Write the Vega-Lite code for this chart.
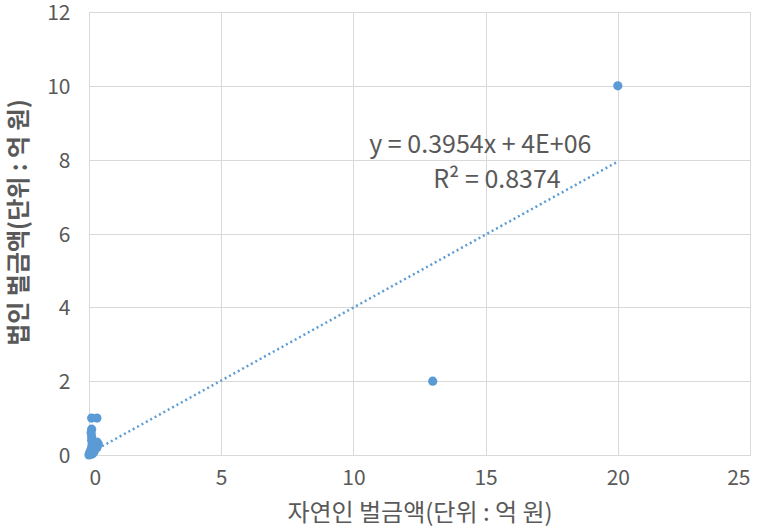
{
  "$schema": "https://vega.github.io/schema/vega-lite/v6.json",
  "autosize": "none",
  "width": 661,
  "height": 443,
  "padding": {"left": 89, "top": 12, "right": 12, "bottom": 74},
  "background": "white",
  "config": {
    "view": {"stroke": "#D9D9D9"},
    "font": "Noto Sans CJK KR"
  },
  "datasets": {
    "fines": [
      {"person": 0.0, "corp": 0.0},
      {"person": 0.02, "corp": 0.05},
      {"person": 0.05, "corp": 0.1},
      {"person": 0.1, "corp": 0.02},
      {"person": 0.08, "corp": 0.15},
      {"person": 0.1, "corp": 0.2},
      {"person": 0.12, "corp": 0.3},
      {"person": 0.1, "corp": 0.4},
      {"person": 0.1, "corp": 0.5},
      {"person": 0.08, "corp": 0.6},
      {"person": 0.1, "corp": 0.7},
      {"person": 0.1, "corp": 1.0},
      {"person": 0.3, "corp": 1.0},
      {"person": 0.3, "corp": 0.2},
      {"person": 0.35, "corp": 0.3},
      {"person": 0.3, "corp": 0.35},
      {"person": 0.2, "corp": 0.1},
      {"person": 0.15, "corp": 0.05},
      {"person": 0.2, "corp": 0.25},
      {"person": 13, "corp": 2},
      {"person": 20, "corp": 10}
    ],
    "trend": [
      {"person": 0.0, "corp": 0.04},
      {"person": 20, "corp": 7.948}
    ],
    "fitLabels": [
      {"person": 14.8, "corp": 8.4, "label": "y = 0.3954x + 4E+06"},
      {"person": 15.43, "corp": 7.45, "label": "R² = 0.8374"}
    ]
  },
  "layer": [
    {
      "data": {"name": "trend"},
      "mark": {"type": "line", "color": "#5B9BD5", "strokeWidth": 2.5, "strokeDash": [2, 3], "clip": true},
      "encoding": {
        "x": {
          "field": "person", "type": "quantitative",
          "scale": {"domain": [0, 25], "nice": false},
          "axis": {
            "title": "자연인 벌금액(단위 : 억 원)",
            "values": [0, 5, 10, 15, 20, 25],
            "grid": true, "gridColor": "#D9D9D9", "domainColor": "#D9D9D9",
            "ticks": false, "labelPadding": 12,
            "labelFont": "Noto Sans CJK KR", "labelFontSize": 21, "labelColor": "#595959",
            "titleFont": "Noto Sans CJK KR", "titleFontSize": 24, "titleFontWeight": "normal", "titleColor": "#595959",
            "titleY": 58, "titleBaseline": "middle"
          }
        },
        "y": {
          "field": "corp", "type": "quantitative",
          "scale": {"domain": [0, 12], "nice": false},
          "axis": {
            "title": "법인 벌금액(단위 : 억 원)",
            "values": [0, 2, 4, 6, 8, 10, 12],
            "grid": true, "gridColor": "#D9D9D9", "domainColor": "#D9D9D9",
            "ticks": false, "labelPadding": 19, "labelOffset": 1.5,
            "labelFont": "Noto Sans CJK KR", "labelFontSize": 21, "labelColor": "#595959",
            "titleFont": "Noto Sans CJK KR", "titleFontSize": 24, "titleFontWeight": "bold", "titleColor": "#595959",
            "titleX": -70, "titleY": 210, "titleAngle": -90, "titleBaseline": "middle", "titleAlign": "center"
          }
        }
      }
    },
    {
      "data": {"name": "fines"},
      "mark": {"type": "circle", "color": "#5B9BD5", "opacity": 1, "size": 85},
      "encoding": {
        "x": {"field": "person", "type": "quantitative"},
        "y": {"field": "corp", "type": "quantitative"}
      }
    },
    {
      "data": {"name": "fitLabels"},
      "mark": {"type": "text", "fontSize": 25, "color": "#595959", "font": "Noto Sans CJK KR"},
      "encoding": {
        "x": {"field": "person", "type": "quantitative"},
        "y": {"field": "corp", "type": "quantitative"},
        "text": {"field": "label"}
      }
    }
  ]
}
